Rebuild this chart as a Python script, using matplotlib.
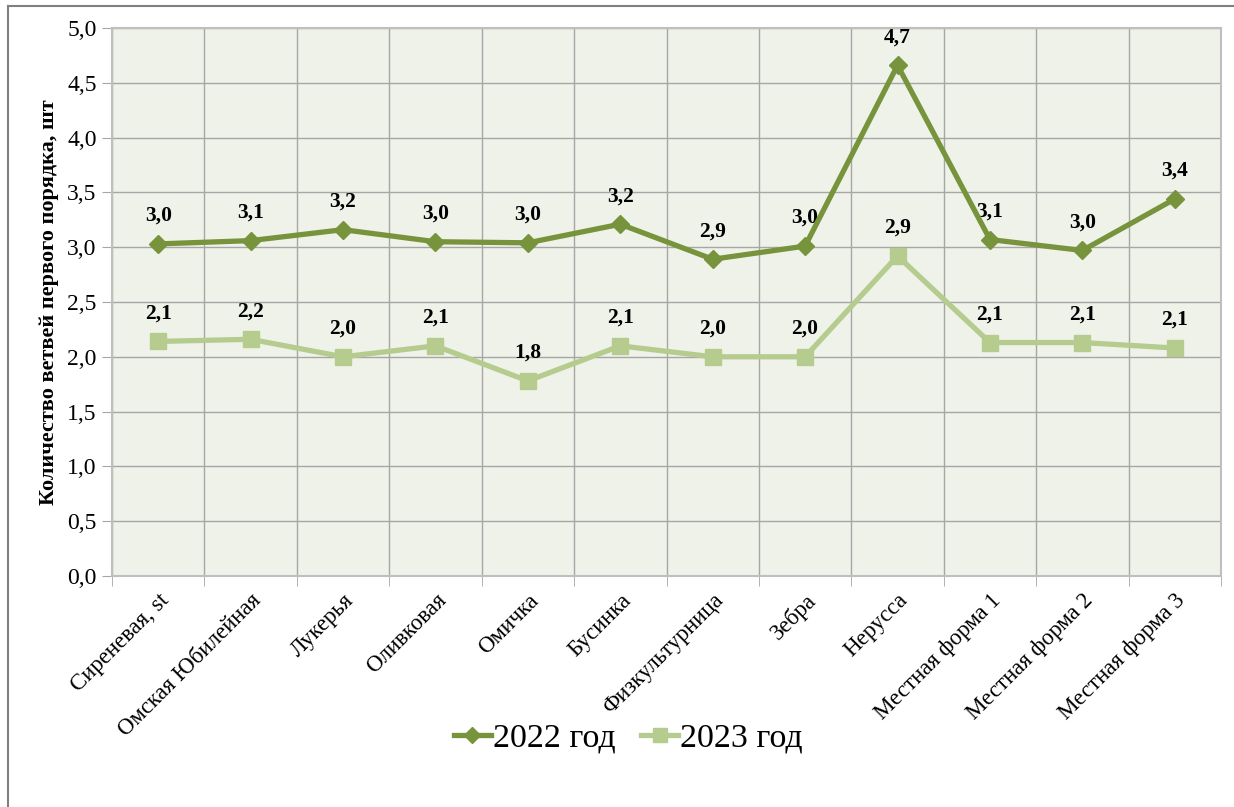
import numpy as np
import matplotlib
matplotlib.use('Agg')
import matplotlib.pyplot as plt
from matplotlib.lines import Line2D

plt.rcParams['font.family'] = ['Liberation Serif', 'DejaVu Serif']

categories = ['Сиреневая, st', 'Омская Юбилейная', 'Лукерья', 'Оливковая', 'Омичка',
              'Бусинка', 'Физкультурница', 'Зебра', 'Нерусса',
              'Местная форма 1', 'Местная форма 2', 'Местная форма 3']
y2022 = [3.03, 3.06, 3.16, 3.05, 3.04, 3.21, 2.89, 3.01, 4.66, 3.07, 2.97, 3.44]
y2023 = [2.14, 2.16, 2.00, 2.10, 1.78, 2.10, 2.00, 2.00, 2.92, 2.13, 2.13, 2.08]
yticks = [0.0, 0.5, 1.0, 1.5, 2.0, 2.5, 3.0, 3.5, 4.0, 4.5, 5.0]

c2022 = '#77933C'
c2023 = '#B5CC8E'

fig = plt.figure(figsize=(12.34, 8.07), dpi=100)
ax = fig.add_axes([112/1234, 1-576/807, (1221-112)/1234, (576-28)/807])
ax.set_facecolor('#EFF2E9')

x = np.arange(len(categories))
ax.plot(x, y2023, color=c2023, lw=3.8, marker='s', ms=11, label='2023 год', zorder=3)
ax.plot(x, y2022, color=c2022, lw=3.8, marker='D', ms=9, label='2022 год', zorder=4)

for xi, v in zip(x, y2022):
    ax.annotate(f'{v:.1f}'.replace('.', ','), (xi, v), xytext=(0, 13), textcoords='offset points',
                ha='center', va='bottom', fontsize=15.5, fontweight='bold')
for xi, v in zip(x, y2023):
    ax.annotate(f'{v:.1f}'.replace('.', ','), (xi, v), xytext=(0, 13), textcoords='offset points',
                ha='center', va='bottom', fontsize=15.5, fontweight='bold')

ax.set_xlim(-0.5, len(categories) - 0.5)
ax.set_ylim(0, 5)
ax.set_yticks(yticks)
ax.set_yticklabels([f'{t:.1f}'.replace('.', ',') for t in yticks], fontsize=17)
ax.set_xticks(x)
ax.set_xticklabels(categories, rotation=45, ha='right', rotation_mode='anchor', fontsize=16.5)
ax.tick_params(axis='x', length=0, pad=10)
ax.tick_params(axis='y', length=7, color='#A6A6A6', pad=4)
ax.set_xticks(np.arange(len(categories) + 1) - 0.5, minor=True)
ax.tick_params(axis='x', which='minor', length=7, color='#A6A6A6')
ax.grid(True, which='minor', axis='x', color='#A6A6A6', lw=1)
ax.grid(True, which='major', axis='y', color='#A6A6A6', lw=1)
ax.set_axisbelow(True)
for s in ax.spines.values():
    s.set_color('#BFBFBF')
    s.set_linewidth(1.5)

ax.set_ylabel('Количество ветвей первого порядка, шт', fontsize=16, fontweight='bold', labelpad=6)

handles = [Line2D([], [], color=c2022, lw=3.8, marker='D', ms=8),
           Line2D([], [], color=c2023, lw=3.8, marker='s', ms=10)]
fig.legend(handles, ['2022 год', '2023 год'], loc='center', bbox_to_anchor=(0.509, 1-738/807),
           ncol=2, frameon=False, fontsize=24.5, handlelength=1.1, handletextpad=0.05,
           columnspacing=0.75)

# outer frame (left and top edges visible)
fig.add_artist(Line2D([8/1234, 8/1234], [0, 1-6/807], color='#808080', lw=1.5))
fig.add_artist(Line2D([8/1234, 1], [1-6/807, 1-6/807], color='#808080', lw=1.5))

plt.savefig('out.png', dpi=100)
